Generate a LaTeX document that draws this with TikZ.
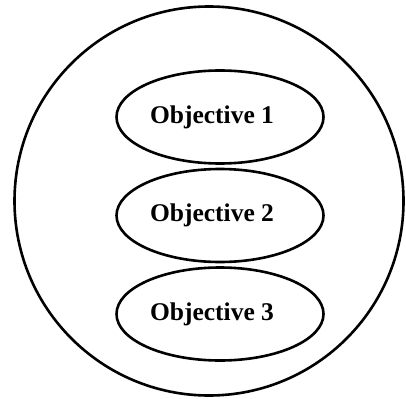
\documentclass[tikz,border=0pt]{standalone}
\usepackage{fontspec}
\setmainfont{Liberation Serif}
\usetikzlibrary{positioning}
\usetikzlibrary{shapes}

\begin{document}
\begin{tikzpicture}[x=1pt, y=1pt, node distance =98.5pt, on grid, line width=2.6pt,
goal/.style ={ellipse, draw, inner sep=0pt, minimum width =207pt, minimum height =93pt},
goaltext/.style ={font=\fontsize{25.5}{30}\selectfont\bfseries}]
\useasboundingbox (0,0) rectangle (406,-398);
\node[circle, draw, minimum size =389pt, inner sep=0pt] (All) at (209,-201) {};
\node[goal, label={[goaltext, xshift=-8pt]center:Objective 1}] (O1) at (220,-117) {};
\node[goal, label={[goaltext, xshift=-8pt]center:Objective 2}] (O2) [below =of O1] {};
\node[goal, label={[goaltext, xshift=-8pt]center:Objective 3}] (O3) [below =of O2] {};
\end{tikzpicture}
\end{document}
